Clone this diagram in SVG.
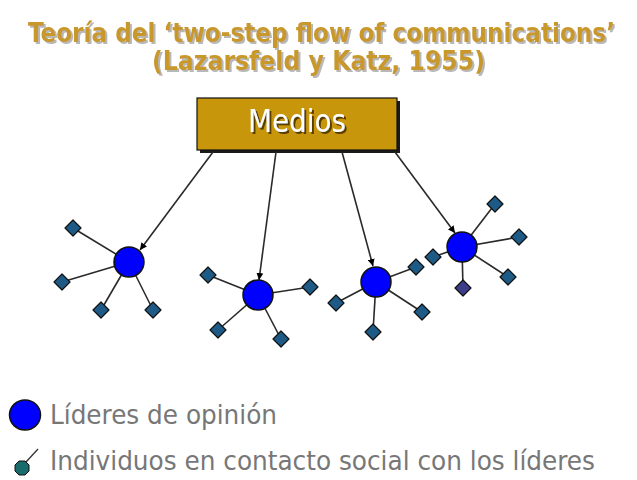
<svg xmlns="http://www.w3.org/2000/svg" width="637" height="480" viewBox="0 0 637 480">
<defs>
<style>
.title{font-family:"DejaVu Sans Condensed","DejaVu Sans",sans-serif;font-stretch:condensed;font-weight:bold;font-size:26px;fill:#c9982c;filter:url(#tsh)}
.medios{font-family:"DejaVu Sans Condensed","DejaVu Sans",sans-serif;font-stretch:condensed;font-size:32px;fill:#ffffff;filter:url(#msh)}
.legend{font-family:"DejaVu Sans Condensed","DejaVu Sans",sans-serif;font-stretch:condensed;font-size:27px;fill:#777777}
.leader{fill:#0000ff;stroke:#111;stroke-width:1.5}
.ind{fill:#1d5b86;stroke:#111;stroke-width:1.2}
.ind2{fill:#3c3c88;stroke:#111;stroke-width:1.2}
.link{stroke:#2a2a2a;stroke-width:1.6;fill:none}
.arrow{stroke:#2a2a2a;stroke-width:1.6;fill:none;marker-end:url(#ah)}
</style>
<filter id="tsh" x="-5%" y="-20%" width="110%" height="150%">
<feDropShadow dx="2" dy="2" stdDeviation="0.6" flood-color="#b0b0b0" flood-opacity="0.9"/>
</filter>
<filter id="msh" x="-10%" y="-20%" width="120%" height="150%">
<feDropShadow dx="2" dy="2" stdDeviation="0.4" flood-color="#5a3c00" flood-opacity="1"/>
</filter>
<marker id="ah" viewBox="0 0 10 10" refX="10" refY="5" markerWidth="7" markerHeight="7" markerUnits="userSpaceOnUse" orient="auto">
<path d="M0,0 L10,5 L0,10 z" fill="#000"/>
</marker>
<polygon id="dia" points="0,-8 8,0 0,8 -8,0" stroke-linejoin="round"/>
</defs>
<rect width="637" height="480" fill="#ffffff"/>

<g id="title">
<text class="title" x="28" y="42" textLength="587" lengthAdjust="spacingAndGlyphs">Teoría del ‘two-step flow of communications’</text>
<text class="title" x="152" y="70" textLength="333" lengthAdjust="spacingAndGlyphs">(Lazarsfeld y Katz, 1955)</text>
</g>

<g id="medios">
<rect x="200" y="101" width="200" height="52" fill="#1a1a1a"/>
<rect x="197" y="98" width="200" height="52" fill="#c8960a" stroke="#111" stroke-width="1.2"/>
<text class="medios" x="248" y="132" textLength="98" lengthAdjust="spacingAndGlyphs">Medios</text>
</g>

<g id="connectors">
<line class="arrow" x1="213" y1="152" x2="140" y2="250"/>
<line class="arrow" x1="276" y1="152" x2="259" y2="280"/>
<line class="arrow" x1="342" y1="152" x2="373" y2="266"/>
<line class="arrow" x1="395" y1="152" x2="455" y2="233"/>
<line class="link" x1="129" y1="262" x2="73" y2="228"/>
<line class="link" x1="129" y1="262" x2="62" y2="282"/>
<line class="link" x1="129" y1="262" x2="101" y2="310"/>
<line class="link" x1="129" y1="262" x2="153" y2="310"/>
<line class="link" x1="258" y1="295" x2="208" y2="275"/>
<line class="link" x1="258" y1="295" x2="310" y2="287"/>
<line class="link" x1="258" y1="295" x2="218" y2="330"/>
<line class="link" x1="258" y1="295" x2="281" y2="339"/>
<line class="link" x1="376" y1="282" x2="336" y2="303"/>
<line class="link" x1="376" y1="282" x2="373" y2="332"/>
<line class="link" x1="376" y1="282" x2="422" y2="312"/>
<line class="link" x1="376" y1="282" x2="416" y2="267"/>
<line class="link" x1="462" y1="247" x2="433" y2="257"/>
<line class="link" x1="462" y1="247" x2="495" y2="204"/>
<line class="link" x1="462" y1="247" x2="519" y2="237"/>
<line class="link" x1="462" y1="247" x2="508" y2="277"/>
<line class="link" x1="462" y1="247" x2="463" y2="288"/>
</g>

<g id="leader1">
<circle class="leader" cx="129" cy="262" r="15"/>
<use href="#dia" class="ind" x="73" y="228"/>
<use href="#dia" class="ind" x="62" y="282"/>
<use href="#dia" class="ind" x="101" y="310"/>
<use href="#dia" class="ind" x="153" y="310"/>
</g>
<g id="leader2">
<circle class="leader" cx="258" cy="295" r="15"/>
<use href="#dia" class="ind" x="208" y="275"/>
<use href="#dia" class="ind" x="310" y="287"/>
<use href="#dia" class="ind" x="218" y="330"/>
<use href="#dia" class="ind" x="281" y="339"/>
</g>
<g id="leader3">
<circle class="leader" cx="376" cy="282" r="15"/>
<use href="#dia" class="ind" x="336" y="303"/>
<use href="#dia" class="ind" x="373" y="332"/>
<use href="#dia" class="ind" x="422" y="312"/>
<use href="#dia" class="ind" x="416" y="267"/>
</g>
<g id="leader4">
<circle class="leader" cx="462" cy="247" r="15"/>
<use href="#dia" class="ind" x="433" y="257"/>
<use href="#dia" class="ind" x="495" y="204"/>
<use href="#dia" class="ind" x="519" y="237"/>
<use href="#dia" class="ind" x="508" y="277"/>
<use href="#dia" class="ind2" x="463" y="288"/>
</g>

<g id="legend">
<ellipse class="leader" cx="25" cy="415" rx="15.5" ry="15"/>
<text class="legend" x="50" y="424" textLength="227" lengthAdjust="spacingAndGlyphs">Líderes de opinión</text>
<line x1="26" y1="462" x2="38" y2="449" stroke="#333" stroke-width="1.3"/>
<polygon points="19,461 25,461 29,465 29,471 25,475 19,475 15,471 15,465" fill="#1a6b6b" stroke="#111" stroke-width="1"/>
<text class="legend" x="50" y="470" textLength="545" lengthAdjust="spacingAndGlyphs">Individuos en contacto social con los líderes</text>
</g>
</svg>
